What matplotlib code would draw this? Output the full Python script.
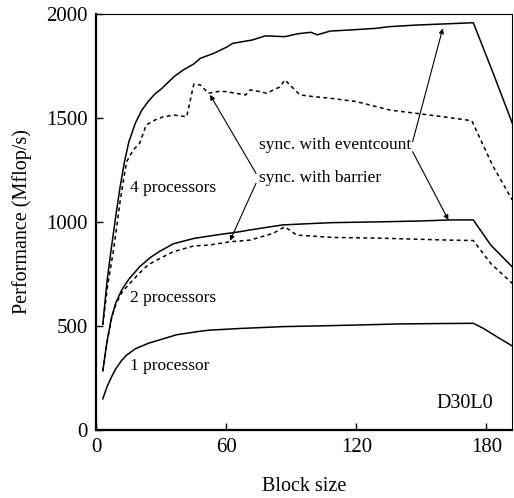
# Performance vs. block size (D30L0), 1/2/4 Prozessoren
import matplotlib
matplotlib.use('Agg')
import matplotlib.pyplot as plt

# Daten
x_p4 = [3, 5, 7, 9, 11, 13, 15, 18, 21, 24, 27, 30, 36, 40, 45, 48, 54, 60, 63,
        72, 78, 87, 93, 99, 102, 108, 117, 129, 135, 148, 160, 174, 183, 192]
y_p4 = [510, 720, 880, 1030, 1170, 1290, 1385, 1475, 1538, 1580, 1615, 1640, 1700,
        1730, 1760, 1787, 1810, 1840, 1859, 1875, 1895, 1891, 1905, 1912, 1900,
        1918, 1923, 1931, 1939, 1947, 1952, 1958, 1720, 1475]

x_p4b = [3, 5, 8, 11, 12.5, 14, 17, 20, 23, 27, 31, 36, 41.7, 45, 48, 51.7, 56, 60,
         64, 69, 71, 75.6, 78.6, 84.8, 87, 94, 100, 108, 120, 135.6, 148, 160, 173.3, 183, 192]
y_p4b = [505, 680, 870, 1100, 1200, 1290, 1346, 1378, 1466, 1490, 1506, 1514, 1506,
         1663, 1659, 1619, 1627, 1627, 1619, 1611, 1635, 1627, 1619, 1650, 1683, 1611,
         1603, 1595, 1579, 1538, 1522, 1506, 1487, 1270, 1106]

x_p2 = [3, 5, 7, 9, 11.7, 15, 20, 25, 29.4, 35.5, 45, 55.6, 66, 71, 86, 100,
        109, 132, 150, 163, 174, 182, 192]
y_p2 = [285, 430, 540, 612, 673, 725, 785, 830, 860, 895, 921, 938, 953, 962, 986,
        993, 997, 1001, 1005, 1010, 1010, 890, 784]

x_p2b = [3, 5, 7, 9, 11.7, 15, 20, 24, 29.4, 35.5, 45, 52, 61.7, 71, 81.7, 87,
         92.5, 109, 132, 163, 174, 182, 192]
y_p2b = [283, 425, 535, 605, 660, 700, 755, 795, 825, 857, 885, 889, 905, 913, 946,
         977, 937, 926, 922, 913, 911, 801, 705]

x_p1 = [3, 5, 7, 9, 11.7, 14, 17.9, 24, 31.7, 37, 48, 52, 66, 75, 86, 100,
        109, 125, 140, 160, 174, 178.6, 184.8, 192]
y_p1 = [150, 210, 255, 295, 335, 360, 390, 417, 441, 458, 475, 480, 488, 492,
        497, 500, 502, 506, 510, 512, 513, 489, 449, 404]

x_ticks = [0, 60, 120, 180]
y_ticks = [0, 500, 1000, 1500, 2000]

plt.rcParams['font.family'] = ['Liberation Serif', 'DejaVu Serif']

fig = plt.figure(figsize=(5.14, 4.98), dpi=100)
ax = fig.add_axes([0.1874, 0.1365, 0.8093, 0.8354])

lw = 1.1
dash = (0, (2.5, 2.2))
ax.plot(x_p4, y_p4, color='k', lw=lw)
ax.plot(x_p4b, y_p4b, color='k', lw=lw, linestyle=dash)
ax.plot(x_p2, y_p2, color='k', lw=lw)
ax.plot(x_p2b, y_p2b, color='k', lw=lw, linestyle=dash)
ax.plot(x_p1, y_p1, color='k', lw=lw)

ax.set_xlim(0, 192)
ax.set_ylim(0, 2000)
ax.set_xticks(x_ticks)
ax.set_yticks(y_ticks)
ax.tick_params(direction='in', length=5, width=1, labelsize=15, pad=6,
               top=False, right=False)

for s in ['left', 'bottom']:
    ax.spines[s].set_linewidth(1.6)
for s in ['top', 'right']:
    ax.spines[s].set_linewidth(0.8)

ax.set_xlabel('Block size', fontsize=14.5, labelpad=14)
ax.set_ylabel('Performance (Mflop/s)', fontsize=14.5, labelpad=10)

# Beschriftungen
fs = 12.5
ax.text(15.6, 1162, '4 processors', fontsize=fs, va='center')
ax.text(15.6, 633, '2 processors', fontsize=fs, va='center')
ax.text(15.6, 308, '1 processor', fontsize=fs, va='center')
ax.text(170, 128, 'D30L0', fontsize=14.5, va='center', ha='center')
ax.text(75.2, 1370, 'sync. with eventcount', fontsize=fs, va='center')
ax.text(75.2, 1210, 'sync. with barrier', fontsize=fs, va='center')

# Pfeile
arr = dict(arrowstyle='-|>', color='k', lw=0.8, mutation_scale=7,
           shrinkA=0, shrinkB=0)
ax.annotate('', xy=(159.9, 1931), xytext=(146.0, 1386), arrowprops=arr)
ax.annotate('', xy=(162.5, 1010), xytext=(146.0, 1338), arrowprops=arr)
ax.annotate('', xy=(52.5, 1611), xytext=(73.7, 1234), arrowprops=arr)
ax.annotate('', xy=(61.7, 910), xytext=(73.7, 1186), arrowprops=arr)

fig.savefig('out.png', dpi=100)
